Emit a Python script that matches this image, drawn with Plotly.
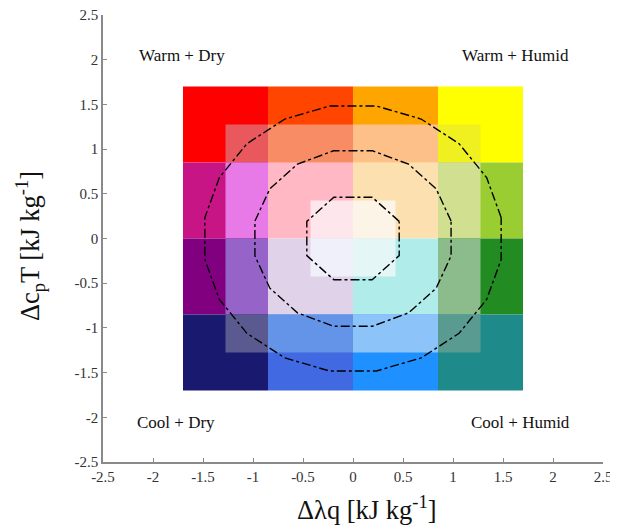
import numpy as np
import plotly.graph_objects as go

# ---- data ----
edges = [-1.7, -0.85, 0.0, 0.85, 1.7]          # outer 4x4 grid edges
mid_half = 1.275                               # middle (tinted) square half width
inner_half = 0.425                             # inner (pale) square half width
# base colours, rows from top (warm) to bottom (cool), cols from dry to humid
base_colors = [
    ["#FF0000", "#FF4500", "#FFA500", "#FFFF00"],
    ["#C71585", "#FFB8C4", "#FDE0B0", "#9ACD32"],
    ["#800080", "#E0D2E8", "#B0ECEA", "#228B22"],
    ["#191970", "#4169E1", "#1E90FF", "#1F8A8A"],
]
mid_colors = [
    ["#E8585C", "#F88C64", "#FCC088", "#F0F020"],
    ["#E87AE8", None, None, "#D0E090"],
    ["#9664C8", None, None, "#8CBC8C"],
    ["#5A5A91", "#6494E8", "#8CC4FA", "#5A9B91"],
]
inner_colors = [
    ["#FDE6EC", "#FDF4E8"],
    ["#F0F0FA", "#E4F6F6"],
]
radii = [0.5, 1.0, 1.5]
n_vertices = [8, 16, 20]

labels = ["Warm + Dry", "Warm + Humid", "Cool + Dry", "Cool + Humid"]
label_x = [-1.71, 1.62, -1.77, 1.67]
label_y = [2.05, 2.05, -2.06, -2.06]

x_title = "Δλq [kJ kg<sup>-1</sup>]"
y_title = "Δc<sub>p</sub>T [kJ kg<sup>-1</sup>]"

tick_vals = [-2.5, -2, -1.5, -1, -0.5, 0, 0.5, 1, 1.5, 2, 2.5]
tick_text = ["-2.5", "-2", "-1.5", "-1", "-0.5", "0", "0.5", "1", "1.5", "2", "2.5"]

# ---- figure ----
fig = go.Figure()
shapes = []

def clip(a, lo, hi):
    return max(lo, min(hi, a))

nrow = len(edges) - 1
for i in range(nrow):
    y1 = edges[nrow - i]
    y0 = edges[nrow - i - 1]
    for j in range(nrow):
        x0, x1 = edges[j], edges[j + 1]
        shapes.append(dict(type="rect", xref="x", yref="y", x0=x0, x1=x1, y0=y0, y1=y1,
                           fillcolor=base_colors[i][j], line=dict(width=0), layer="below"))
        mc = mid_colors[i][j]
        if mc:
            cx0, cx1 = clip(x0, -mid_half, mid_half), clip(x1, -mid_half, mid_half)
            cy0, cy1 = clip(y0, -mid_half, mid_half), clip(y1, -mid_half, mid_half)
            if cx1 > cx0 and cy1 > cy0:
                shapes.append(dict(type="rect", xref="x", yref="y", x0=cx0, x1=cx1, y0=cy0, y1=cy1,
                                   fillcolor=mc, line=dict(width=0), layer="below"))

for i in range(2):
    for j in range(2):
        x0 = -inner_half + j * inner_half
        y1 = inner_half - i * inner_half
        shapes.append(dict(type="rect", xref="x", yref="y", x0=x0, x1=x0 + inner_half,
                           y0=y1 - inner_half, y1=y1,
                           fillcolor=inner_colors[i][j], line=dict(width=0), layer="below"))

for r, n in zip(radii, n_vertices):
    off = 180.0 / n
    ang = np.deg2rad(off + np.arange(n + 1) * 360.0 / n)
    fig.add_trace(go.Scatter(x=r * np.cos(ang), y=r * np.sin(ang), mode="lines",
                             line=dict(color="black", width=1.4, dash="dashdot"),
                             showlegend=False, hoverinfo="skip"))

annotations = []
for t, x, y in zip(labels, label_x, label_y):
    annotations.append(dict(x=x, y=y, xref="x", yref="y", text=t, showarrow=False,
                            font=dict(family="Liberation Serif", size=17, color="#111")))

title_font = dict(family="Liberation Serif", size=26.5, color="#111")
annotations.append(dict(x=0.528, y=0, xref="paper", yref="paper", yanchor="middle",
                        yshift=-46, text=x_title, showarrow=False, font=title_font))
annotations.append(dict(x=0, y=0.483, xref="paper", yref="paper", xanchor="center",
                        yanchor="middle", xshift=-73, textangle=-90, text=y_title,
                        showarrow=False, font=title_font))

axis_common = dict(range=[-2.5, 2.5], tickvals=tick_vals, ticktext=tick_text,
                   showgrid=False, zeroline=False, showline=True, linecolor="#8a8a8a",
                   linewidth=1.5, ticks="inside", ticklen=4, tickcolor="#8a8a8a",
                   automargin=False, ticklabeloverflow="allow",
                   tickfont=dict(family="Liberation Serif", size=15, color="#333"))

fig.update_layout(
    width=618, height=528,
    margin=dict(l=95, r=23, t=7, b=74),
    paper_bgcolor="white", plot_bgcolor="white",
    shapes=shapes, annotations=annotations,
    xaxis=dict(**axis_common),
    yaxis=dict(**axis_common),
)

fig.write_html("out.html")
